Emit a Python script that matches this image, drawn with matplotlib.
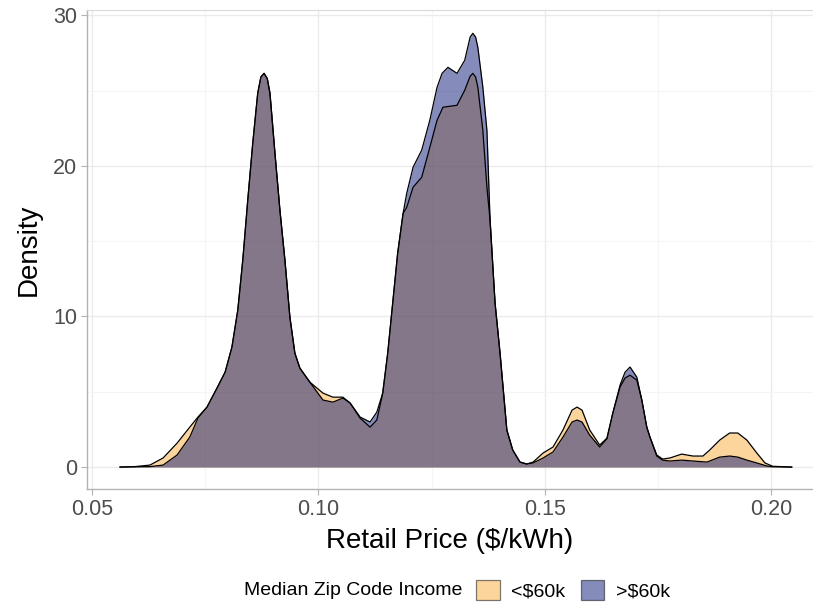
import matplotlib.pyplot as plt
import matplotlib.patches as mpatches
from matplotlib.ticker import MultipleLocator

plt.rcParams['font.family'] = ['Liberation Sans', 'DejaVu Sans']

# density of retail price, zip codes with median income < $60k
price_low = [0.0562, 0.0595, 0.0628, 0.0657, 0.0688, 0.0716, 0.0734, 0.0754, 0.0776, 0.0794,
             0.0809, 0.0822, 0.0833, 0.0844, 0.0855, 0.0866, 0.0873, 0.0880, 0.0887, 0.0893,
             0.0904, 0.0915,
             0.0926, 0.0937, 0.0948, 0.0959, 0.0981, 0.1010, 0.1032, 0.1054, 0.1070, 0.1092,
             0.1114, 0.1129, 0.1142, 0.1153, 0.1164, 0.1175, 0.1187, 0.1195, 0.1209, 0.1228,
             0.1246, 0.1262, 0.1275, 0.1306, 0.1323, 0.1335, 0.1341, 0.1347, 0.1352, 0.1363,
             0.1372, 0.1379,
             0.1390, 0.1401, 0.1416, 0.1429, 0.1445, 0.1460, 0.1474, 0.1496, 0.1518, 0.1540,
             0.1560, 0.1571, 0.1582, 0.1599, 0.1621, 0.1637, 0.1650, 0.1666, 0.1677, 0.1688,
             0.1703, 0.1714, 0.1725, 0.1732, 0.1747, 0.1760, 0.1776, 0.1802, 0.1827, 0.1849,
             0.1864, 0.1886, 0.1908, 0.1926, 0.1946, 0.1968, 0.1986, 0.2003, 0.2045]
dens_low = [0.0, 0.03, 0.13, 0.60, 1.59, 2.65, 3.32, 3.98, 5.24, 6.30,
            7.96, 10.42, 13.74, 17.72, 21.50, 24.82, 25.90, 26.14, 25.80, 24.82,
            20.84, 17.05,
            13.74, 9.95, 7.56, 6.57, 5.64, 4.91, 4.64, 4.64, 4.25, 3.25,
            2.65, 3.12, 4.91, 7.56, 10.88, 14.20, 16.85, 17.25, 18.58, 19.24,
            21.23, 23.03, 23.89, 24.02, 25.02, 25.95, 26.14, 25.90, 25.22, 22.36,
            18.58, 16.39,
            10.88, 7.56, 2.46, 1.13, 0.33, 0.20, 0.33, 0.93, 1.33, 2.46,
            3.78, 3.98, 3.78, 2.46, 1.46, 1.92, 3.58, 5.31, 5.91, 6.10,
            5.77, 4.45, 2.65, 1.99, 0.80, 0.53, 0.60, 0.86, 0.73, 0.73,
            1.13, 1.79, 2.26, 2.26, 1.79, 0.93, 0.27, 0.05, 0.0]

# density of retail price, zip codes with median income > $60k
price_high = [0.0562, 0.0628, 0.0657, 0.0688, 0.0716, 0.0734, 0.0754, 0.0776, 0.0794, 0.0809,
              0.0822, 0.0833, 0.0844, 0.0855, 0.0866, 0.0873, 0.0880, 0.0887, 0.0893, 0.0904,
              0.0915, 0.0926,
              0.0937, 0.0948, 0.0959, 0.0981, 0.1010, 0.1032, 0.1054, 0.1070, 0.1092, 0.1114,
              0.1129, 0.1142, 0.1153, 0.1164, 0.1175, 0.1187, 0.1195, 0.1209, 0.1228, 0.1246,
              0.1262, 0.1273, 0.1286, 0.1306, 0.1323, 0.1335, 0.1341, 0.1347, 0.1352, 0.1363,
              0.1372, 0.1379,
              0.1390, 0.1401, 0.1416, 0.1429, 0.1445, 0.1460, 0.1474, 0.1496, 0.1518, 0.1540,
              0.1560, 0.1571, 0.1582, 0.1599, 0.1621, 0.1637, 0.1650, 0.1666, 0.1677, 0.1688,
              0.1703, 0.1714, 0.1725, 0.1732, 0.1747, 0.1760, 0.1776, 0.1802, 0.1827, 0.1858,
              0.1886, 0.1908, 0.1926, 0.1946, 0.1968, 0.1990, 0.2003, 0.2045]
dens_high = [0.0, 0.03, 0.13, 0.80, 1.99, 3.25, 3.98, 5.24, 6.30, 7.96,
             10.42, 13.74, 17.72, 21.50, 24.82, 25.90, 26.14, 25.80, 24.82, 20.84,
             17.05, 13.74,
             9.95, 7.56, 6.57, 5.64, 4.45, 4.31, 4.58, 4.25, 3.32, 2.99,
             3.65, 4.91, 7.56, 10.88, 14.20, 16.85, 18.18, 19.91, 21.04, 23.03,
             25.22, 26.14, 26.54, 26.14, 27.01, 28.55, 28.80, 28.55, 27.87, 25.22,
             22.36, 16.39,
             10.88, 7.56, 2.46, 1.13, 0.33, 0.20, 0.27, 0.60, 1.00, 1.99,
             2.99, 3.12, 2.99, 2.12, 1.33, 1.86, 3.58, 5.44, 6.30, 6.64,
             5.97, 4.45, 2.65, 1.99, 0.73, 0.46, 0.40, 0.46, 0.40, 0.33,
             0.66, 0.73, 0.66, 0.46, 0.27, 0.07, 0.02, 0.0]

groups = ['<$60k', '>$60k']
fills = ['#fbad3c', '#0d1a78']

fig = plt.figure(figsize=(8.13, 6.03), dpi=100)
ax = fig.add_axes([0.107, 0.189, 0.893, 0.794])

for x, y, c in [(price_low, dens_low, fills[0]), (price_high, dens_high, fills[1])]:
    ax.fill_between(x, 0, y, color=c, alpha=0.5, linewidth=0, zorder=2)
    ax.plot(x, y, color='black', linewidth=0.9, zorder=3)

ax.set_xlim(0.0489, 0.2092)
ax.set_ylim(-1.46, 30.33)
ax.xaxis.set_minor_locator(MultipleLocator(0.025))
ax.yaxis.set_major_locator(MultipleLocator(10))
ax.yaxis.set_minor_locator(MultipleLocator(5))
ax.set_xticks([0.05, 0.10, 0.15, 0.20])
ax.set_xticklabels(['0.05', '0.10', '0.15', '0.20'])

ax.grid(which='major', color='#ebebeb', linewidth=1.0, zorder=0)
ax.grid(which='minor', color='#f5f5f5', linewidth=0.8, zorder=0)
ax.set_axisbelow(True)

for side in ['left', 'bottom']:
    ax.spines[side].set_color('#b3b3b3')
    ax.spines[side].set_linewidth(1.0)
ax.spines['top'].set_color('#d9d9d9')
ax.spines['right'].set_visible(False)

ax.tick_params(which='major', length=4, color='#b3b3b3', labelcolor='#4d4d4d',
               labelsize=15.5, pad=3)
ax.tick_params(which='minor', length=0)

ax.set_xlabel('Retail Price ($/kWh)', fontsize=20, labelpad=6)
ax.set_ylabel('Density', fontsize=20, labelpad=8)

# legend along the bottom, title on the left of the keys
handles = [mpatches.Patch(facecolor=c, alpha=0.5, edgecolor='black', linewidth=0.9)
           for c in fills]
fig.text(0.300, 0.021, 'Median Zip Code Income', fontsize=14, ha='left', va='center')
leg = fig.legend(handles, groups, loc='center left', bbox_to_anchor=(0.586, 0.021),
                 ncol=2, frameon=False, fontsize=14, handlelength=1.2, handleheight=1.2,
                 handletextpad=0.6, columnspacing=0.8, borderpad=0, borderaxespad=0)
for h in leg.legend_handles:
    h.set_edgecolor('black')

fig.savefig('out.png', dpi=100)
